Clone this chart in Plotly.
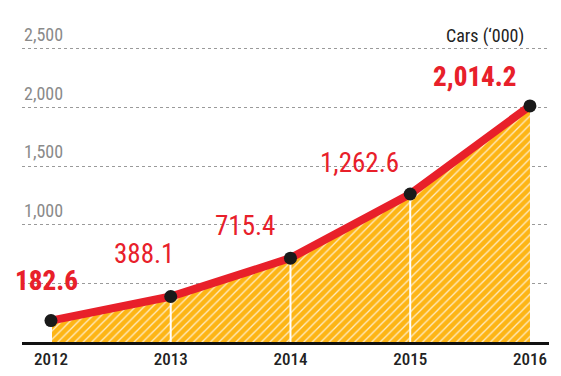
import plotly.graph_objects as go

years = [2012, 2013, 2014, 2015, 2016]
cars = [182.6, 388.1, 715.4, 1262.6, 2014.2]
value_labels = ["182.6", "388.1", "715.4", "1,262.6", "2,014.2"]
label_bold = [True, False, False, False, True]
ytick_vals = [500, 1000, 1500, 2000, 2500]
ytick_text = ["", "1,000", "1,500", "2,000", "2,500"]
unit_label = "Cars (\u2018000)"

# label pixel offsets (style)
label_dx = [-4, -27, -45, -51, -55]
label_dy = [40, 43, 32, 31, 29]

RED = "#E8202A"
ORANGE = "#FDB515"
FONT = "Roboto Condensed, Roboto, sans-serif"

# page body adds an 8px offset; figure is sized to fill the remaining window
W, H = 553, 368
ml, mr, mt, mb = 14, 12, 22, 34
pw, ph = W - ml - mr, H - mt - mb

fig = go.Figure()

# hatched orange fill
fig.add_trace(go.Scatter(
    x=years, y=cars, mode="lines", line=dict(width=0, color=ORANGE),
    fill="tozeroy", fillcolor=ORANGE,
    fillpattern=dict(shape="/", fgcolor="#FFFFFF", bgcolor=ORANGE,
                     fgopacity=0.75, size=6, solidity=0.22),
    hoverinfo="skip", showlegend=False))

# white vertical separators
vx, vy = [], []
for x, y in zip(years[:-1], cars[:-1]):
    vx += [x, x, None]
    vy += [0, y, None]
fig.add_trace(go.Scatter(x=vx, y=vy, mode="lines",
                         line=dict(color="white", width=2),
                         hoverinfo="skip", showlegend=False))

# red line
fig.add_trace(go.Scatter(x=years, y=cars, mode="lines",
                         line=dict(color=RED, width=8),
                         hoverinfo="skip", showlegend=False))
# black dots
fig.add_trace(go.Scatter(x=years, y=cars, mode="markers",
                         marker=dict(color="#1a1a1a", size=13),
                         hoverinfo="skip", showlegend=False))

annotations = []
for x, y, t, b, dx, dy in zip(years, cars, value_labels, label_bold, label_dx, label_dy):
    annotations.append(dict(
        x=x, y=y, xref="x", yref="y", text=t,
        showarrow=False, xanchor="center", yanchor="middle",
        xshift=dx, yshift=dy,
        font=dict(family=FONT, size=27,
                  weight=800 if b else 400, color=RED)))

for v, t in zip(ytick_vals, ytick_text):
    if t:
        annotations.append(dict(
            x=0, y=v, xref="paper", yref="y", text=t, showarrow=False,
            xanchor="left", yanchor="bottom", yshift=2,
            font=dict(family=FONT, size=18, color="#8a8a8a")))

annotations.append(dict(
    x=(518 - ml) / pw, y=(H - mb - 28) / ph, xref="paper", yref="paper",
    text=unit_label, showarrow=False, xanchor="right", yanchor="middle",
    font=dict(family=FONT, size=18, color="#222222")))

fig.update_layout(
    width=W, height=H,
    margin=dict(l=ml, r=mr, t=mt, b=mb, autoexpand=False),
    plot_bgcolor="white", paper_bgcolor="white",
    annotations=annotations,
    xaxis=dict(range=[2011.758, 2016.159], tickvals=years,
               ticktext=[str(y) for y in years], automargin=False,
               tickfont=dict(family=FONT, size=17, color="#222222", weight=500),
               showgrid=False, zeroline=False, showline=True,
               linecolor="#111111", linewidth=2.5, ticks="", ticklen=0,
               fixedrange=True),
    yaxis=dict(range=[0, 2662], tickvals=ytick_vals, showticklabels=False,
               automargin=False,
               showgrid=True, gridcolor="#9a9a9a", griddash="dot", gridwidth=1,
               zeroline=False, showline=False, fixedrange=True),
)

fig.write_html("out.html")
